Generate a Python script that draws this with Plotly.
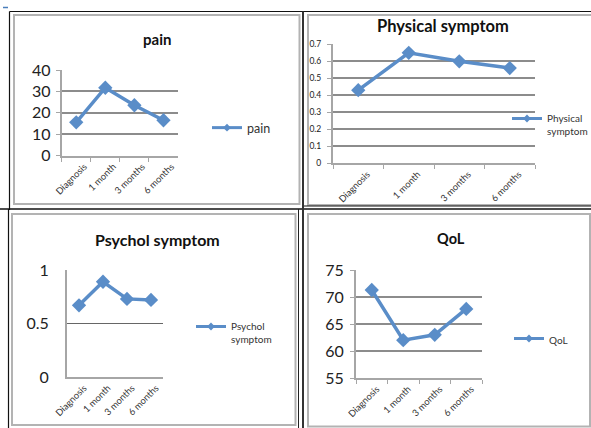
import plotly.graph_objects as go

W, H = 591, 428

categories = ["Diagnosis", "1 month", "3 months", "6 months"]
pain = [15.5, 31.7, 23.5, 16.5]
physical = [0.43, 0.65, 0.60, 0.56]
psychol = [0.67, 0.89, 0.73, 0.72]
qol = [71.3, 62.0, 63.0, 67.8]

titles = ["pain", "Physical symptom", "Psychol symptom", "QoL"]
legend_names = ["pain", "Physical<br>symptom", "Psychol<br>symptom", "QoL"]

BLUE = "#5A8DC8"
FONT = "Lato"


def px(x):
    return x / W


def py(y):
    return 1 - y / H


fig = go.Figure()

series = [pain, physical, psychol, qol]
axis_ids = ["", "2", "3", "4"]
legend_ids = ["legend", "legend2", "legend3", "legend4"]

for vals, aid, lid, lname in zip(series, axis_ids, legend_ids, legend_names):
    fig.add_trace(go.Scatter(
        x=categories, y=vals, mode="lines+markers",
        line=dict(color=BLUE, width=3.5),
        marker=dict(symbol="diamond", size=11, color=BLUE),
        xaxis="x" + aid, yaxis="y" + aid, showlegend=False, hoverinfo="skip"))
    fig.add_trace(go.Scatter(
        x=[None], y=[None], mode="lines+markers", name=lname,
        line=dict(color=BLUE, width=3),
        marker=dict(symbol="diamond", size=6, color=BLUE),
        xaxis="x" + aid, yaxis="y" + aid, showlegend=True, legend=lid))

# panel geometry in pixels: x0, x1, ytop, ybottom
panels = [
    (61.7, 178, 70, 155.5),
    (333, 535, 44.3, 163.3),
    (67, 163, 270, 377),
    (356, 482, 270, 378),
]
yranges = [[0, 40], [0, 0.7], [0, 1], [55, 75]]
ydticks = [10, 0.1, 0.5, 5]
yfont = [16, 8.5, 16, 16]
has_ticks = [True, True, False, True]
ystandoff = [2, 4, 13, 3]
xshift = [8, 9, 5, 5]

layout = dict(
    width=W, height=H,
    margin=dict(l=0, r=0, t=0, b=0, pad=0, autoexpand=False),
    paper_bgcolor="white", plot_bgcolor="white",
    font=dict(family=FONT, color="#222"),
    showlegend=True,
)

for i, aid in enumerate(axis_ids):
    x0, x1, yt, yb = panels[i]
    ticks = "outside" if has_ticks[i] else ""
    layout["xaxis" + aid] = dict(
        domain=[px(x0), px(x1)], anchor="y" + aid,
        type="category", range=[-0.5, 3.5],
        showline=True, linecolor="#a6a6a6", linewidth=2,
        ticks=ticks, tickson="boundaries", ticklen=4, tickcolor="#a6a6a6",
        tickangle=-45, tickfont=dict(size=9.3, color="#333"),
        ticklabelshift=xshift[i],
        showgrid=False, zeroline=False, fixedrange=True, automargin=False,
    )
    layout["yaxis" + aid] = dict(
        domain=[py(yb), py(yt)], anchor="x" + aid,
        range=yranges[i], dtick=ydticks[i], tick0=yranges[i][0],
        showline=True, linecolor="#a6a6a6", linewidth=2,
        ticks=ticks, ticklen=4, tickcolor="#a6a6a6",
        ticklabelstandoff=ystandoff[i],
        tickfont=dict(size=yfont[i], color="#222"),
        showgrid=True, gridcolor="#8c8c8c" if i != 2 else "#666666",
        gridwidth=1.5 if i != 2 else 1,
        zeroline=False, fixedrange=True, automargin=False,
    )

# legends
legend_pos = [(207, 128, 12.5), (507, 125, 10), (191, 333, 10), (509, 340, 10)]
for lid, (lx, ly, fs) in zip(legend_ids, legend_pos):
    layout[lid] = dict(
        x=px(lx), y=py(ly), xanchor="left", yanchor="middle",
        xref="paper", yref="paper",
        bgcolor="rgba(0,0,0,0)", borderwidth=0,
        font=dict(size=fs, color="#333", family=FONT),
        valign="top", itemwidth=30, tracegroupgap=0,
    )

# titles
title_pos = [(157, 39, 15), (443, 26, 16.5), (157, 240, 16), (451, 238, 14.5)]
annotations = []
for t, (tx, ty, fs) in zip(titles, title_pos):
    annotations.append(dict(
        text="<b>" + t + "</b>", x=px(tx), y=py(ty), xref="paper", yref="paper",
        xanchor="center", yanchor="middle", showarrow=False,
        font=dict(size=fs, color="#111", family=FONT)))
layout["annotations"] = annotations

shapes = []


def line(x0, y0, x1, y1, color, width):
    shapes.append(dict(type="line", xref="paper", yref="paper",
                       x0=px(x0), y0=py(y0), x1=px(x1), y1=py(y1),
                       line=dict(color=color, width=width), layer="above"))


def rect(x0, y0, x1, y1, color, width):
    shapes.append(dict(type="rect", xref="paper", yref="paper",
                       x0=px(x0), y0=py(y0), x1=px(x1), y1=py(y1),
                       line=dict(color=color, width=width), layer="below"))


# gray chart borders
rect(14, 15, 299.5, 204, "#b3b3b3", 2)
rect(308, 15, 600, 205, "#b3b3b3", 2)
rect(12, 214, 295.5, 425, "#b3b3b3", 2)
rect(308, 214, 590, 426.5, "#b3b3b3", 2)

# black table lines
line(9.5, 11.5, 600, 11.5, "#111", 1.2)
line(9.5, 11.5, 9.5, 210, "#111", 1.2)
line(8.5, 209, 8.5, 428, "#111", 1.2)
line(0, 209, 600, 209, "#111", 1.5)
line(302, 206, 600, 206, "#111", 1)
line(303, 11.5, 303, 428, "#333", 2)
line(298.5, 209, 298.5, 428, "#222", 1)
line(3, 7.5, 8, 7.5, "#4a7ebb", 1.5)

layout["shapes"] = shapes

fig.update_layout(**layout)
fig.write_html("out.html")
